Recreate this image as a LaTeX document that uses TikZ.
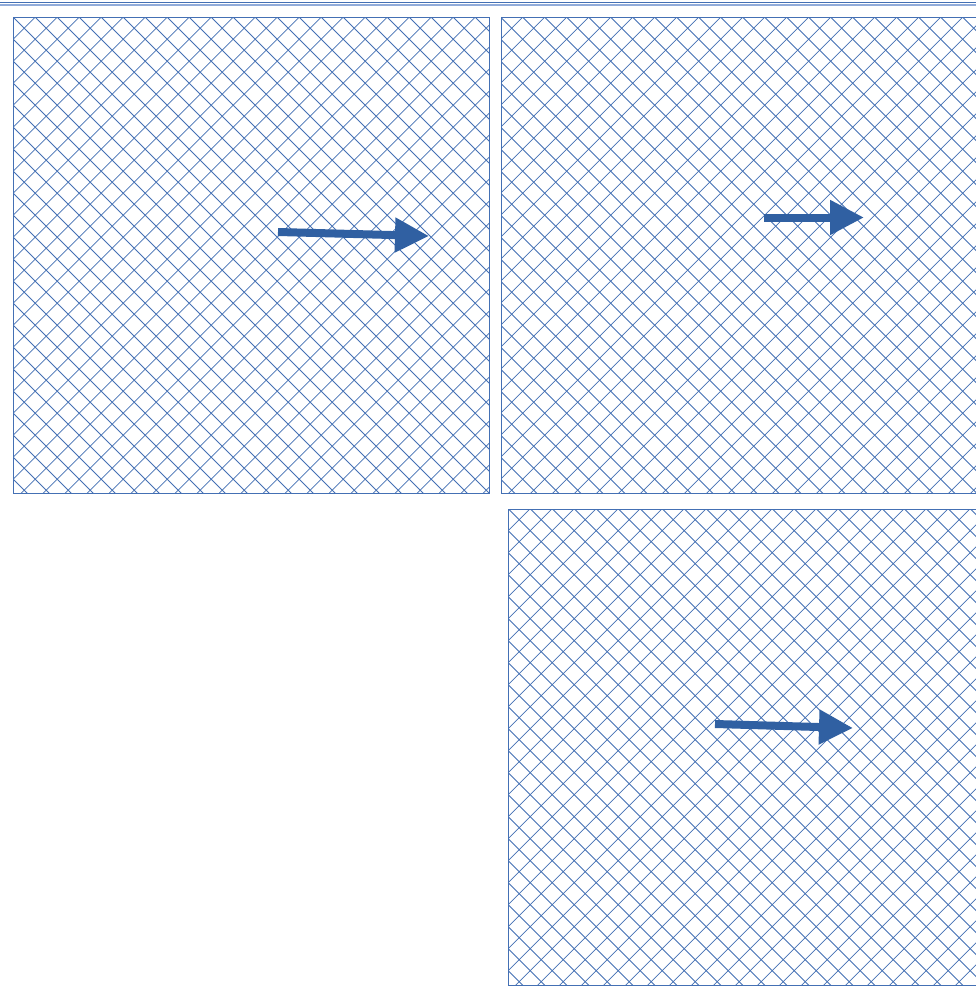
\documentclass[tikz,border=0pt]{standalone}
\usepackage{tikz}
\usetikzlibrary{arrows.meta}
\definecolor{hatchblue}{RGB}{68,112,180}
\definecolor{arrowblue}{RGB}{48,96,162}
\definecolor{ruleblue}{RGB}{145,172,218}
\begin{document}
\begin{tikzpicture}[
  x=1pt, y=-1pt,
  frame/.style={draw=hatchblue, line width=1pt},
  hatch/.style={draw=hatchblue, line width=0.8pt},
  bigarrow/.style={draw=arrowblue, line width=8pt,
    -{Triangle[width=33pt,length=34pt]}}
]
\clip (0,0) rectangle (976,987);
\fill[white] (0,0) rectangle (976,987);

\draw[hatchblue, line width=1pt] (0,2.6) -- (976,2.6);
\draw[ruleblue, line width=2pt] (0,5.4) -- (976,5.4);

\foreach \X/\Y in {13.5/17.5, 501/17.5, 508.5/509}{
  \begin{scope}
    \clip (\X,\Y) rectangle ++(476,476);
    \foreach \k in {-24,...,46}{
      \draw[hatch] (\X+10.7+22*\k-520, \Y+10.7-520) -- ++(1040,1040);
      \draw[hatch] (\X+10.7+22*\k-520, \Y+10.7+520) -- ++(1040,-1040);
    }
  \end{scope}
  \draw[frame] (\X,\Y) rectangle ++(476,476);
}

\coordinate (leftstart) at (278,232);
\coordinate (leftend) at (429,236);
\coordinate (rightstart) at (764,217.5);
\coordinate (rightend) at (864,217.5);
\coordinate (lowstart) at (715,724);
\coordinate (lowend) at (853,728);

\draw[bigarrow] (leftstart) -- (leftend);
\draw[bigarrow] (rightstart) -- (rightend);
\draw[bigarrow] (lowstart) -- (lowend);
\end{tikzpicture}
\end{document}
